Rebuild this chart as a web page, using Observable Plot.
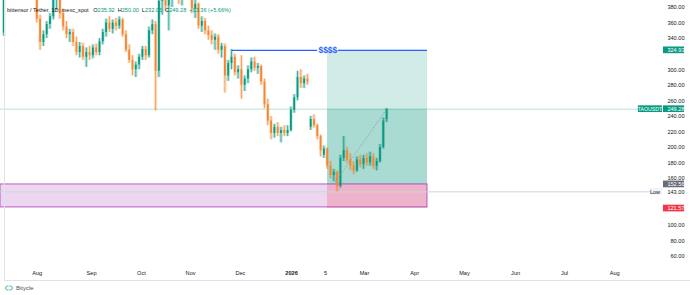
<!DOCTYPE html>
<html><head><meta charset="utf-8">
<script src="https://cdn.jsdelivr.net/npm/d3@7"></script>
<script src="https://cdn.jsdelivr.net/npm/@observablehq/plot@0.6"></script>
<style>
body{margin:0;background:#fff;font-family:"Liberation Sans",Arial,sans-serif}
#wrap{position:relative;width:690px;height:295px;overflow:hidden;background:#fff}
#chart{position:absolute;left:0;top:0}
#panel{position:absolute;left:4px;top:0;width:686px;height:281px;border-left:1px solid #e0e3eb;border-bottom:1px solid #e0e3eb;box-sizing:border-box;pointer-events:none}
#hdr{position:absolute;left:7px;top:7px;font-size:5.6px;line-height:7px;color:#131722;white-space:nowrap}
#hdr span{margin-left:3px}
#hdr .v{color:#089981;margin-left:0}
#foot{position:absolute;left:4px;top:285px;font-size:6px;color:#50535e;display:flex;align-items:center;gap:2px}
</style></head>
<body>
<div id="wrap">
  <div id="chart"></div>
  <div id="panel"></div>
  <div id="hdr">bittensor / Tether, 1D, mexc_spot <span>O<b class="v" style="font-weight:normal">235.92</b></span><span>H<b class="v" style="font-weight:normal">250.00</b></span><span>L<b class="v" style="font-weight:normal">232.05</b></span><span>C<b class="v" style="font-weight:normal">249.28</b></span><span class="v" style="margin-left:3px">+13.36 (+5.66%)</span></div>
  <div id="foot"><svg width="10" height="6" viewBox="0 0 10 6"><path d="M4.5 1.2 A2 2 0 1 0 4.5 4.8" fill="none" stroke="#39b54a" stroke-width="1"/><path d="M5.5 1.2 A2 2 0 1 1 5.5 4.8" fill="none" stroke="#1fa8d8" stroke-width="1"/></svg><span>Bitycle</span></div>
</div>
<script>
// ---- candle data (bar index 0..116) ----
const opens  = [347,392,410,405,415,408,400,418,412,402,396,365,335,345,358,368,390,394,372,355,345,348,335,322,330,316,322,318,328,322,336,348,360,352,360,356,364,345,325,312,300,306,316,326,318,350,358,298,388,400,382,390,405,412,390,402,430,400,378,384,356,362,350,344,338,342,325,330,292,308,316,296,300,280,288,300,310,302,304,284,255,234,218,226,218,222,218,222,248,264,290,282,288,226,236,228,214,190,198,176,164,168,150,186,196,184,176,170,184,178,186,180,188,176,182,200,235.92];
const highs  = [395,420,425,418,430,415,420,428,420,408,400,370,350,362,372,395,402,398,378,362,352,352,342,335,334,328,330,332,333,340,352,365,368,364,366,368,366,350,332,318,310,320,330,330,355,364,362,395,405,410,396,410,420,425,408,440,460,420,390,386,368,366,356,350,346,345,334,333,312,326,320,305,318,292,305,315,316,308,306,288,262,240,230,232,226,228,228,252,268,298,300,292,294,240,242,230,216,202,200,182,172,170,190,214,200,192,182,188,190,190,192,194,192,186,204,238,250];
const lows   = [343,390,400,395,405,396,395,410,398,392,360,325,330,340,352,364,376,365,350,340,335,330,318,315,312,303,312,314,318,318,332,342,348,346,350,352,342,322,308,292,290,300,312,312,315,345,247,290,370,375,350,380,395,384,382,395,395,372,366,352,348,345,338,332,325,320,315,270,285,300,292,288,262,272,282,296,298,294,280,250,228,210,212,214,206,214,214,220,244,260,276,276,280,222,225,210,188,186,172,160,156,143,148,182,180,170,165,168,174,172,176,176,172,170,180,198,232.05];
const closes = [392,410,405,415,408,400,418,412,402,396,365,335,345,358,368,390,394,372,355,345,348,335,322,330,316,322,318,328,322,336,348,360,352,360,356,364,345,325,312,300,306,316,326,318,350,358,298,388,400,382,390,405,412,390,402,430,400,378,384,356,362,350,344,338,342,325,330,292,308,316,296,300,280,288,300,310,302,304,284,255,234,218,226,218,222,218,222,248,264,290,282,288,284,236,228,214,196,198,176,164,168,150,186,196,184,176,170,184,178,186,180,188,176,182,200,234,249.28];

// ---- axis ticks ----
const yTicks = [60,80,100,120,140,160,180,200,220,240,260,280,300,320,340,360,380];
const xTickPos = [10.1,26.6,41.7,56.6,71.7,87.2,97.5,109.3,124.5,139.6,155.1,169.9,185.1];
const xTickLabels = ["Aug","Sep","Oct","Nov","Dec","2026","5","Mar","Apr","May","Jun","Jul","Aug"];

// ---- annotation values ----
const target = 324.93, entry = 152.56, stop = 121.57, lastPrice = 249.28, lowPrice = 143.00;
const zoneTop = 152.56, zoneBottom = 123;
const posStart = 98.1, posEnd = 128.4;          // bar indices of the long-position tool
const lineStart = 69.3, labelGapL = 95.1, labelGapR = 101.4, labelAt = 98.2;
const diagStart = 99.9, diagEnd = 116;
const tagValues = [324.93, 249.28, 152.56, 121.57];
const tagTexts = ["324.93","249.28","152.56","121.57"];

// styles
const UP = "#089981", DOWN = "#f5862e";
const tagColors = ["#089981","#089981","#6a6d78","#f23645"];
const XMAX = 199;

const candles = opens.map((o,i)=>({i, o, h:highs[i], l:lows[i], c:closes[i]}));
const col = d => d.c >= d.o ? UP : DOWN;
// tick labels hidden under a price tag (as on the reference price scale)
const covered = v => tagValues.concat([lowPrice]).some(t => Math.abs(t - v) < 6);

const fs = 5.6;
const marks = [
  Plot.rect([0], {x1: ()=>-1, x2: ()=>posEnd, y1: ()=>zoneBottom, y2: ()=>zoneTop, fill:"#9c27b0", fillOpacity:0.19}),
  Plot.rect([0], {x1: ()=>posStart, x2: ()=>posEnd, y1: ()=>entry, y2: ()=>target, fill:UP, fillOpacity:0.19}),
  Plot.rect([0], {x1: ()=>posStart, x2: ()=>posEnd, y1: ()=>entry, y2: ()=>lastPrice, fill:UP, fillOpacity:0.2}),
  Plot.rect([0], {x1: ()=>posStart, x2: ()=>posEnd, y1: ()=>stop, y2: ()=>entry, fill:"#f23645", fillOpacity:0.22}),
  Plot.rect([0], {x1: ()=>-1, x2: ()=>posEnd, y1: ()=>zoneBottom, y2: ()=>zoneTop, fill:"none", stroke:"#9c27b0", strokeWidth:1, strokeOpacity:0.7}),
  Plot.ruleY([lastPrice], {stroke:UP, strokeOpacity:0.28, strokeWidth:1}),
  Plot.ruleY([lowPrice], {stroke:"#d1d4dc", strokeWidth:1}),
  Plot.ruleY([target], {x1: ()=>lineStart, x2: ()=>labelGapL, stroke:"#2962ff", strokeWidth:1.2}),
  Plot.ruleY([target], {x1: ()=>labelGapR, x2: ()=>posEnd, stroke:"#2962ff", strokeWidth:1.2}),
  Plot.text(["$$$$"], {x: ()=>labelAt, y: ()=>target, text: d=>d, fill:"#2962ff", fontSize:8.5, fontWeight:"bold"}),
  Plot.ruleX(candles, {x:"i", y1:"l", y2:"h", stroke:col, strokeWidth:3.3, strokeOpacity:0.26}),
  Plot.ruleX(candles, {x:"i", y1:"l", y2:"h", stroke:col, strokeWidth:0.7}),
  Plot.ruleX(candles, {x:"i", y1:"o", y2:d=>Math.abs(d.c-d.o)<1 ? d.o+1 : d.c, stroke:col, strokeWidth:1.8}),
  Plot.link([0], {x1: ()=>diagStart, y1: ()=>entry, x2: ()=>diagEnd, y2: ()=>lastPrice, stroke:"#8a8d96", strokeWidth:0.7, strokeDasharray:"1.5,1.5"}),
  Plot.text(yTicks, {y: d=>d, text: d=>d.toFixed(2), frameAnchor:"right", dx:24, textAnchor:"end", fill:"#131722", fontSize:fs,
    filter: d=>!covered(d)}),
  Plot.text(xTickPos, {x: d=>d, text: (d,i)=>xTickLabels[i], frameAnchor:"bottom", dy:6, fill:"#131722", fontSize:fs,
    filter: (d,i)=>xTickLabels[i] !== "2026"}),
  Plot.text(xTickPos, {x: d=>d, text: (d,i)=>xTickLabels[i], frameAnchor:"bottom", dy:6, fill:"#131722", fontSize:fs, fontWeight:"bold",
    filter: (d,i)=>xTickLabels[i] === "2026"}),
  Plot.rect([lowPrice], {x1: ()=>XMAX-3, x2: ()=>XMAX+0.6, y1: d=>d-4.3, y2: d=>d+4.3, fill:"#eef3fc"}),
  Plot.text([lowPrice], {y: d=>d, text: ()=>"Low", frameAnchor:"right", dx:-5.5, textAnchor:"middle", fill:"#131722", fontSize:fs}),
  Plot.text([lowPrice], {y: d=>d, text: d=>d.toFixed(2), frameAnchor:"right", dx:24, textAnchor:"end", fill:"#131722", fontSize:fs}),
  Plot.rect([lastPrice], {x1: ()=>XMAX-6.7, x2: ()=>XMAX+0.6, y1: d=>d-4.3, y2: d=>d+4.3, fill:UP}),
  Plot.text([lastPrice], {y: d=>d, text: ()=>"TAOUSDT", frameAnchor:"right", dx:-10.5, textAnchor:"middle", fill:"#fff", fontSize:fs-0.4})
];
tagValues.forEach((v,i)=>{
  marks.push(Plot.rect([v], {x1: ()=>XMAX+0.9, x2: ()=>XMAX+7.3, y1: d=>d-4.3, y2: d=>d+4.3, fill: tagColors[i]}));
  marks.push(Plot.text([v], {y: d=>d, text: ()=>tagTexts[i], frameAnchor:"right", dx:24, textAnchor:"end", fill:"#fff", fontSize:fs}));
});

const chart = Plot.plot({
  width: 690, height: 281,
  marginLeft: 0, marginRight: 30, marginTop: 0, marginBottom: 13,
  x: {type:"linear", domain:[-1, XMAX], axis:null},
  y: {type:"linear", domain:[44.5, 389], axis:null},
  style: {fontFamily:"'Liberation Sans', Arial, sans-serif", background:"transparent", overflow:"visible"},
  marks
});
document.getElementById("chart").appendChild(chart);
</script>
</body></html>
